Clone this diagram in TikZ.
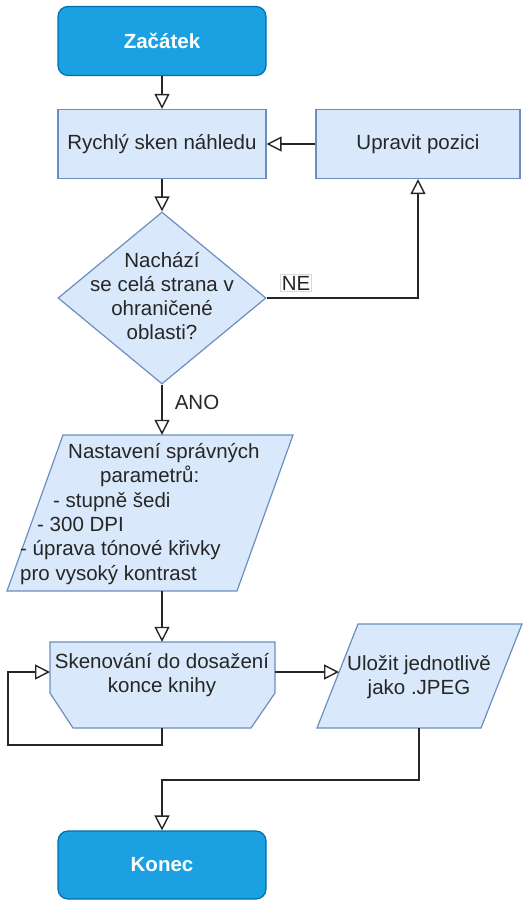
\documentclass[tikz,border=0pt]{standalone}
\usepackage{fontspec}
\setmainfont{Liberation Sans}
\usetikzlibrary{arrows.meta,shapes.geometric,calc}
\definecolor{termfill}{HTML}{1BA1E2}
\definecolor{termline}{HTML}{006EAF}
\definecolor{lightfill}{HTML}{DAE8FC}
\definecolor{lightline}{HTML}{6C8EBF}
\definecolor{txtcol}{HTML}{262626}
\definecolor{conncol}{HTML}{262626}
\begin{document}
\begin{tikzpicture}[x=1pt,y=-1pt,
  font=\fontsize{20.5}{24.3}\selectfont,
  term/.style={rectangle, rounded corners=10pt, draw=termline, fill=termfill, line width=1.2pt,
    minimum width=208pt, minimum height=69pt, inner sep=0pt, text=white,
    font=\fontsize{20.5}{24.3}\selectfont\bfseries},
  proc/.style={rectangle, draw=lightline, fill=lightfill, line width=1.2pt,
    minimum height=69pt, inner sep=0pt, text=txtcol},
  dia/.style={diamond, draw=lightline, fill=lightfill, line width=1.2pt,
    minimum width=208pt, minimum height=172pt, inner sep=0pt},
  shp/.style={draw=lightline, fill=lightfill, line width=1.2pt, line join=miter},
  anchorbox/.style={rectangle, draw=none, inner sep=0pt},
  txt/.style={text=txtcol, inner sep=0pt, align=center},
  conn/.style={draw=conncol, line width=1.4pt, -{Triangle[open,length=15pt,width=15pt,line width=1.4pt]}},
  lbl/.style={text=txtcol, inner sep=1.5pt}
]
\useasboundingbox (0,0) rectangle (523,900);

% Terminals and processes
\node[term] (start) at (162,41) {Začátek};
\node[proc, minimum width=208pt] (preview) at (162,144) {Rychlý sken náhledu};
\node[proc, minimum width=204pt] (adjust) at (418,144) {Upravit pozici};

% Decision
\node[dia] (dec) at (162,298) {};
\node[txt] (dectext) at (162,296) {Nachází\\se celá strana v\\ohraničené\\oblasti?};

% Parallelogram: parameters
\path[shp] (63,435) -- (293,435) -- (237,591) -- (7,591) -- cycle;
\node[anchorbox, minimum width=200pt, minimum height=156pt] (params) at (162,513) {};
\node[txt, align=left, anchor=west] (paramtext) at (20,514)
  {\hspace*{48pt}Nastavení správných\\
   \hspace*{80pt}parametrů:\\
   \hspace*{33pt}- stupně šedi\\
   \hspace*{17pt}- 300 DPI\\
   - úprava tónové křivky\\
   pro vysoký kontrast};

% Loop-limit shaped scan box
\path[shp] (50,642) -- (275,642) -- (275,693) -- (251,728) -- (73,728) -- (50,693) -- cycle;
\node[anchorbox, minimum width=224pt, minimum height=86pt] (scan) at (162,685) {};
\node[txt] (scantext) at (162,675) {Skenování do dosažení\\konce knihy};

% Parallelogram: save
\path[shp] (358,624) -- (522,624) -- (481,728) -- (317,728) -- cycle;
\node[anchorbox, minimum width=160pt, minimum height=104pt] (save) at (419,676) {};
\node[txt] (savetext) at (419,677) {Uložit jednotlivě\\jako .JPEG};

% End
\node[term, minimum height=68pt] (end) at (162,865) {Konec};

% helper coordinates
\coordinate (loopin) at (50,672);
\coordinate (loopout) at (275,672);
\coordinate (savein) at (339,672);

% Connectors
\draw[conn] (start.south) -- (preview.north);
\draw[conn] (adjust.west) -- (preview.east);
\draw[conn] (preview.south) -- (dec.north);
\draw[conn] (dec.east) -| (adjust.south);
\draw[conn] (dec.south) -- (params.north);
\draw[conn] (params.south) -- (scan.north);
\draw[conn] (scan.south) -- (162,745) -- (8,745) -- (8,672) -- (loopin);
\draw[conn] (loopout) -- (savein);
\draw[conn] (save.south) -- (419,780) -| (end.north);

% Labels
\node[lbl, fill=white, draw=black!15, line width=0.6pt] (ne) at (296,283) {NE};
\node[lbl] (ano) at (197,402) {ANO};
\end{tikzpicture}
\end{document}
